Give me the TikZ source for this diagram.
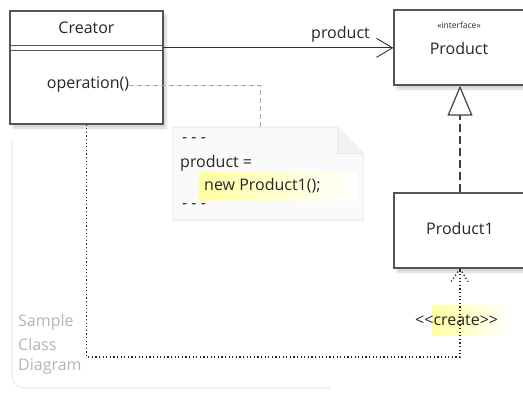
\documentclass[tikz,border=0pt]{standalone}
\usepackage{fontspec}
\setmainfont{Open Sans}
\usetikzlibrary{arrows.meta,positioning,shadows.blur,calc}
\definecolor{boxline}{RGB}{85,85,85}
\definecolor{notefill}{RGB}{250,250,250}
\definecolor{noteline}{RGB}{232,232,232}
\definecolor{hlcol}{RGB}{255,255,160}
\definecolor{framecol}{RGB}{238,238,238}
\definecolor{sampletxt}{RGB}{180,180,180}

\begin{document}
\begin{tikzpicture}[x=1pt, y=-1pt,
    >=Stealth,
    txt/.style={font=\fontsize{16}{19}\selectfont, text=black!85, inner sep=0pt},
    cls/.style={draw=boxline, line width=1.3pt, fill=white, inner sep=0pt,
                blur shadow={shadow xshift=3pt, shadow yshift=-4pt, shadow opacity=18, shadow blur steps=6}},
    hl/.style={inner sep=0pt, left color=hlcol, right color=white, draw=none},
    assoc/.style={line width=1.2pt, black!80, -{Straight Barb[length=16pt, width=19pt, line width=0.9pt]}},
    real/.style={line width=1.2pt, black!75, dash pattern=on 8pt off 4pt,
                 -{Triangle[open, length=30pt, width=25pt, line width=1.2pt, fill=white]}},
    dep/.style={line width=1.3pt, black!85, dash pattern=on 1.2pt off 2.4pt},
    cmt/.style={line width=1pt, black!35, dash pattern=on 5pt off 3pt}
  ]
  \useasboundingbox (0,0) rectangle (523,392);

  \draw[framecol, line width=1.5pt] (12,140) -- (12,376) arc[start angle=180, end angle=90, radius=12] -- (330,388);
  \node[txt, text=sampletxt, anchor=west] (smp1) at (18,322) {Sample};
  \node[txt, text=sampletxt, anchor=west] (smp2) at (18,344) {Class};
  \node[txt, text=sampletxt, anchor=west] (smp3) at (18,367) {Diagram};

  \node[cls, minimum width=153pt, minimum height=113pt] (creator) at (86.5,67.5) {};
  \node[txt] (crname) at (86.5,28) {Creator};
  \node[txt] (oper) at (88,85) {operation()};
  \draw[boxline, line width=1pt] ($(creator.north west)+(0,35)$) -- ($(creator.north east)+(0,35)$);
  \draw[boxline, line width=1pt] ($(creator.north west)+(0,40)$) -- ($(creator.north east)+(0,40)$);
  \coordinate (crsep) at ($(creator.north east)+(0,37.5)$);

  \node[cls, minimum width=132pt, minimum height=75pt] (product) at (460,47.5) {};
  \node[txt, font=\fontsize{8.5}{9}\selectfont] (iface) at (459,25) {«interface»};
  \node[txt] (pname) at (459,48) {Product};

  \node[cls, minimum width=132pt, minimum height=75pt] (product1) at (460,230.5) {};
  \node[txt] (p1name) at (460,228) {Product1};

  \draw[noteline, fill=notefill, line width=1pt]
    (173,127) -- (337,127) -- (363,153) -- (363,220) -- (173,220) -- cycle;
  \draw[noteline, fill=noteline!60, line width=1pt] (337,127) -- (337,153) -- (363,153);
  \coordinate (nanchor) at (260,127);
  \node[txt, anchor=west] (dots1) at (182,140) {- - -};
  \node[txt, anchor=west] (pline) at (180,163) {product =};
  \node[hl, minimum width=158pt, minimum height=28pt, anchor=west] (newhl) at (199,186) {};
  \node[txt, anchor=west] (newp) at (204,186) {new Product1();};
  \node[txt, anchor=west] (dots2) at (182,206) {- - -};

  \draw[cmt] (oper.east) -| (nanchor);

  \draw[assoc] (crsep) -- (crsep -| product.west)
    node[txt, pos=0.9, anchor=south east, yshift=5pt] (plabel) {product};

  \draw[real] (product1.north) -- (product.south);

  \node[hl, minimum width=80pt, minimum height=30pt, anchor=west] (crhl) at (432,320) {};
  \coordinate (bend1) at (creator.south |- 0,357);
  \draw[dep] (creator.south) -- (bend1) -| (product1.south);
  \draw[dep] (product1.south) -- ++(-9,13);
  \draw[dep] (product1.south) -- ++(8,13);
  \node[txt, anchor=west] (create) at (415,320) {{<}{<}create{>}{>}};
\end{tikzpicture}
\end{document}
